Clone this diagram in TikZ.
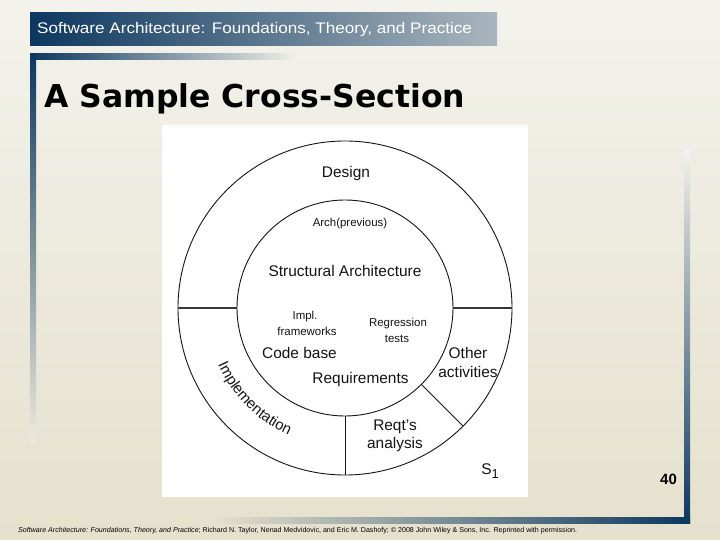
\documentclass[tikz,border=0pt]{standalone}
\usepackage{fontspec}
\setmainfont{Liberation Sans}
\newfontfamily\titlefont{DejaVu Sans}
\usetikzlibrary{decorations.text}
\definecolor{navy}{RGB}{12,55,95}
\definecolor{bgtop}{RGB}{243,242,236}
\definecolor{bgbot}{RGB}{229,225,205}
\definecolor{bgmid}{RGB}{236,234,220}
\definecolor{hdrend}{RGB}{170,182,190}
\definecolor{ink}{RGB}{20,20,20}
\tikzset{
  big/.style={font=\fontsize{15.5}{18}\selectfont, text=ink, inner sep=0pt},
  small/.style={font=\fontsize{11.5}{13}\selectfont, text=ink, inner sep=0pt},
  ring/.style={draw=ink, line width=0.9bp},
  divider/.style={draw=ink!85, line width=1.6bp},
  thin/.style={draw=ink, line width=0.9bp}
}
\begin{document}
\begin{tikzpicture}[x=1bp,y=-1bp]
\useasboundingbox (0,0) rectangle (720,540);
% background
\shade[top color=bgtop,bottom color=bgbot] (0,0) rectangle (720,540);
% header bar
\shade[left color=navy, right color=hdrend] (30,13) rectangle (497,46);
\node[anchor=west, text=white, inner sep=0pt, font=\fontsize{15.4}{17}\selectfont] (hdr) at (37,29.5) {\scalebox{1.115}[1]{Software Architecture: Foundations, Theory, and Practice}};
% frame bars
\shade[left color=navy, right color=bgtop] (30,54) rectangle (300,60);
\shade[top color=navy, bottom color=bgmid] (30,54) rectangle (36,442);
\shade[top color=bgtop, bottom color=navy] (684,150) rectangle (690,523);
\shade[left color=bgbot, right color=navy] (213,517) rectangle (690,523);
% title
\node[anchor=base west, inner sep=0pt, font=\titlefont\bfseries\fontsize{31.6}{36}\selectfont] (title) at (44,108) {A Sample Cross-Section};
% panel
\fill[white] (162,125) rectangle (528,497);
% diagram
\coordinate (C) at (345,308);
\draw[ring] (C) circle[radius=167];
\draw[ring] (C) circle[radius=108];
\coordinate (hl1) at (178,308);
\coordinate (hl2) at (237,308);
\coordinate (hr1) at (453,308);
\coordinate (hr2) at (512,308);
\draw[divider] (hl1) -- (hl2);
\draw[divider] (hr1) -- (hr2);
\coordinate (v1) at (345,416);
\coordinate (v2) at (345,475);
\draw[thin] (v1) -- (v2);
\path (C) ++(45:108) coordinate (d1);
\path (C) ++(45:167) coordinate (d2);
\draw[thin] (d1) -- (d2);
% labels
\node[big] (design) at (346,174) {Design};
\node[small] (archprev) at (350,224) {Arch(previous)};
\node[big] (structarch) at (345,271) {Structural Architecture};
\node[small] (impl1) at (305,317) {Impl.};
\node[small] (impl2) at (307,331) {frameworks};
\node[small] (reg1) at (398,324) {Regression};
\node[small] (reg2) at (397,338.5) {tests};
\node[big] (codebase) at (299.5,353) {Code base};
\node[big] (req) at (360.5,380) {Requirements};
\node[big] (other1) at (468,353) {Other};
\node[big] (other2) at (468,371.5) {activities};
\node[big] (reqt1) at (395,427) {Reqt's};
\node[big] (reqt2) at (395,445) {analysis};
\node[inner sep=0pt, text=ink, font=\fontsize{15.5}{18}\selectfont] (s1) at (490,471) {S\raisebox{-0.45ex}{\fontsize{13}{14}\selectfont 1}};
\path[decorate, decoration={text along path, text align=center,
  text={|\fontsize{15}{17}\selectfont\color{ink}|Implementation}}]
  (C) ++(158:139) arc[start angle=158, end angle=112, radius=139];
% page number and footer
\node[inner sep=0pt, font=\bfseries\fontsize{15}{17}\selectfont] (pg) at (668.5,479) {40};
\node[anchor=west, inner sep=0pt] (foot) at (18,531) {\resizebox{559bp}{!}{\fontsize{7}{8}\selectfont\textit{Software Architecture: Foundations, Theory, and Practice}; Richard N. Taylor, Nenad Medvidovic, and Eric M. Dashofy; © 2008 John Wiley \& Sons, Inc. Reprinted with permission.}};
\end{tikzpicture}
\end{document}
